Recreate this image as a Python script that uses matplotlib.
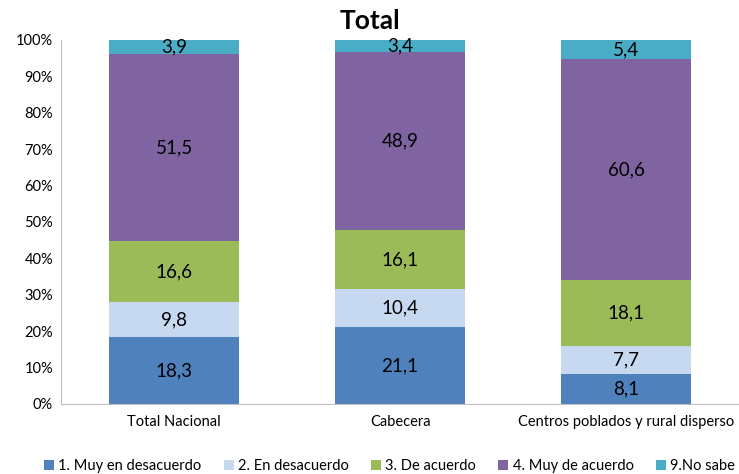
import numpy as np
import matplotlib
matplotlib.use("Agg")
import matplotlib.pyplot as plt

plt.rcParams['font.family'] = ['Lato', 'DejaVu Sans']

categories = ["Total Nacional", "Cabecera", "Centros poblados y rural disperso"]
series = ["1. Muy en desacuerdo", "2. En desacuerdo", "3. De acuerdo",
          "4. Muy de acuerdo", "9.No sabe"]
values = {
    "1. Muy en desacuerdo": [18.3, 21.1, 8.1],
    "2. En desacuerdo": [9.8, 10.4, 7.7],
    "3. De acuerdo": [16.6, 16.1, 18.1],
    "4. Muy de acuerdo": [51.5, 48.9, 60.6],
    "9.No sabe": [3.9, 3.4, 5.4],
}
colors = ["#4F81BD", "#C6D9F1", "#9BBB59", "#8064A2", "#4BACC6"]
yticks = [0, 10, 20, 30, 40, 50, 60, 70, 80, 90, 100]

fig = plt.figure(figsize=(7.39, 4.74), dpi=100)
ax = fig.add_axes([0.083, 0.148, 0.917, 0.768])

x = np.arange(len(categories))
totals = np.sum([values[s] for s in series], axis=0)
bottom = np.zeros(len(categories))
for s, c in zip(series, colors):
    v = np.array(values[s])
    pct = v / totals * 100
    ax.bar(x, pct, 0.575, bottom=bottom, color=c, label=s)
    for xi, b, p, raw in zip(x, bottom, pct, v):
        ax.text(xi, b + p / 2, f"{raw:.1f}".replace(".", ","),
                ha="center", va="center", fontsize=13.5, color="black")
    bottom += pct

ax.set_xlim(-0.5, 2.5)
ax.set_ylim(0, 100)
ax.set_yticks(yticks)
ax.set_yticklabels([f"{t}%" for t in yticks], fontsize=10.5)
ax.set_xticks(x)
ax.set_xticklabels(categories, fontsize=10.5)
ax.tick_params(length=0, pad=6)
ax.tick_params(axis="x", pad=8)
for side in ["top", "right"]:
    ax.spines[side].set_visible(False)
for side in ["left", "bottom"]:
    ax.spines[side].set_color("#BFBFBF")

fig.text(0.5, 0.955, "Total", ha="center", va="center",
         fontsize=19, fontweight="bold")

fig.legend(loc="center", bbox_to_anchor=(0.527, 0.016), ncol=5, frameon=False,
           fontsize=10.5, handlelength=0.7, handleheight=0.7,
           handletextpad=0.3, columnspacing=1.5)

fig.savefig("out.png", dpi=100)
